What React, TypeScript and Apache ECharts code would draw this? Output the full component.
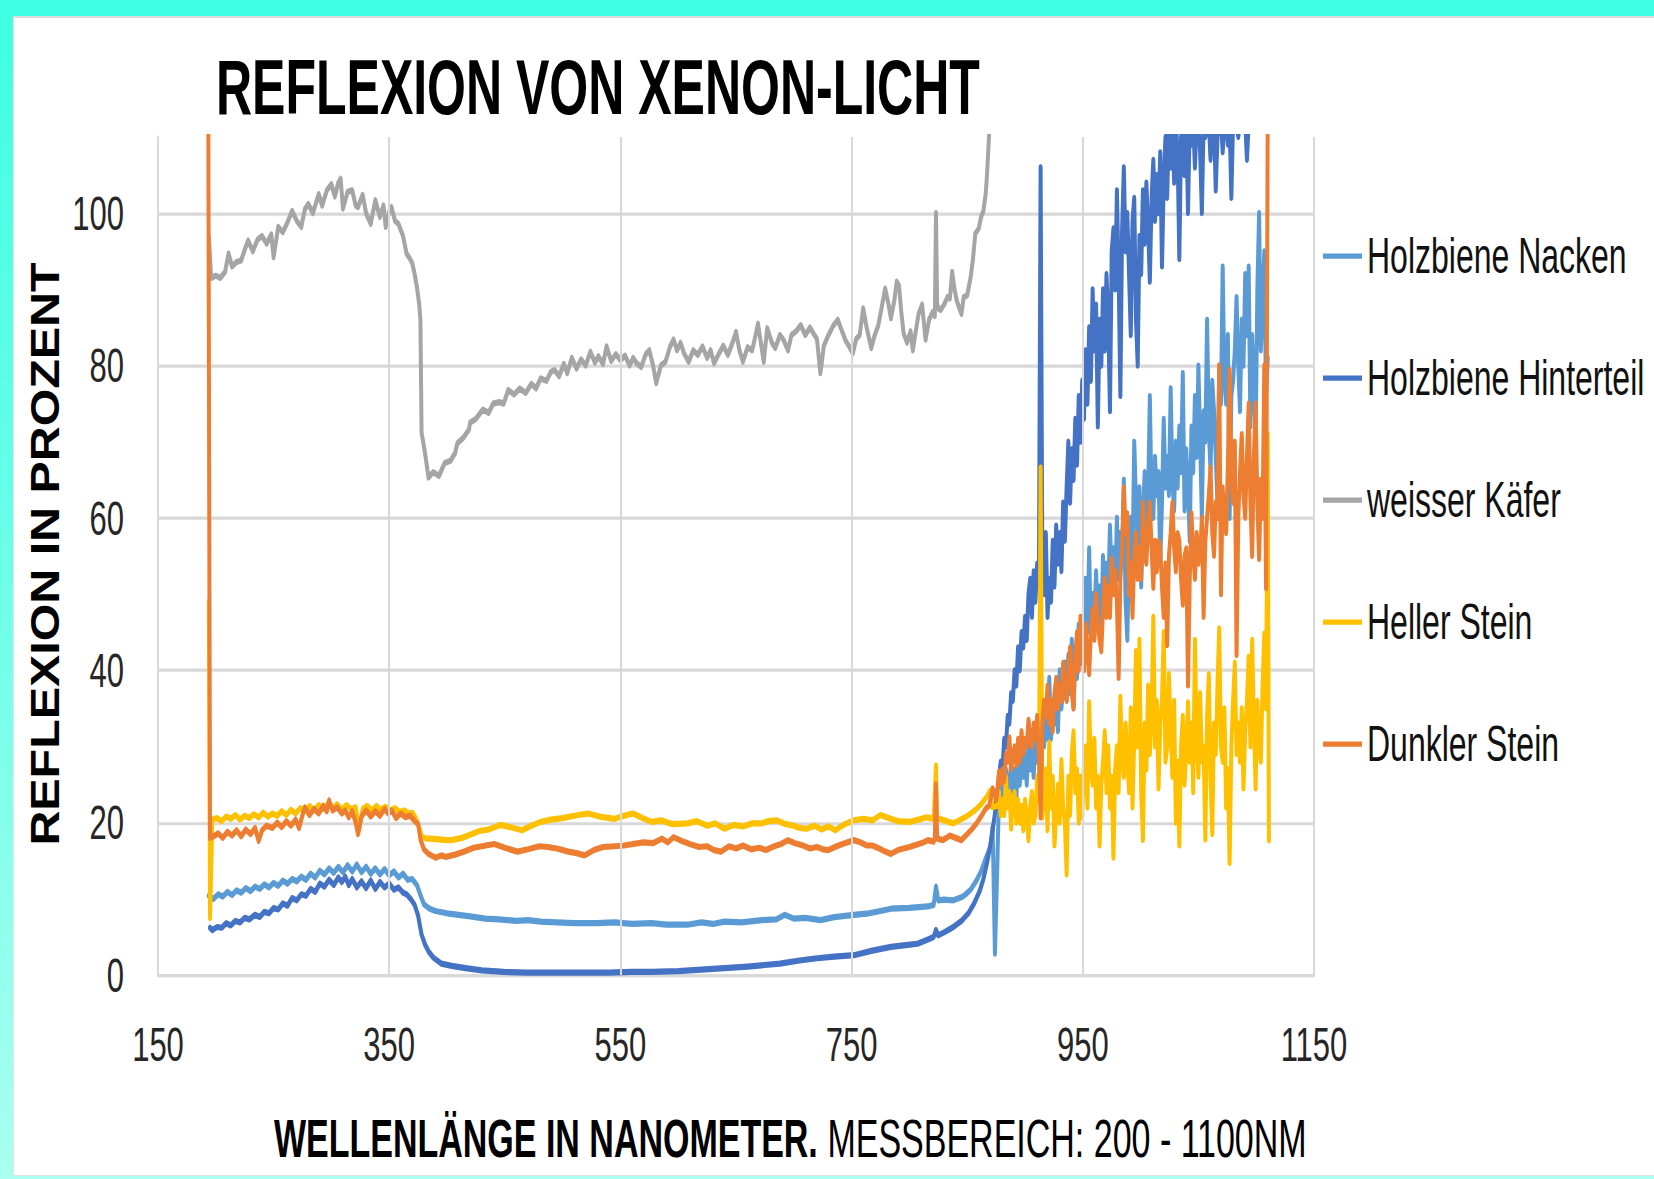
import React, { useEffect, useRef } from "react";
import * as echarts from "echarts";

// ---------- data (wavelength nm, reflexion %) ----------
const xTicks = [150, 350, 550, 750, 950, 1150];

const seriesNames = [
  "Holzbiene Nacken",
  "Holzbiene Hinterteil",
  "weisser Käfer",
  "Heller Stein",
  "Dunkler Stein",
];
const seriesColors = ["#5B9BD5", "#4472C4", "#A5A5A5", "#FFC000", "#ED7D31"];

// 194 – 875 nm, read point by point
const nackenLow: number[][] = [
  [194,10.4],[198,10.0],[202,10.6],[206,10.3],[210,10.9],[214,10.5],[218,11.1],[222,10.8],[226,11.4],[230,11.0],
  [234,11.6],[238,11.3],[242,11.9],[246,11.5],[250,12.1],[254,11.7],[258,12.4],[262,12.0],[266,12.6],[270,12.3],
  [274,12.9],[278,12.5],[282,13.3],[286,12.8],[290,13.7],[294,13.2],[298,14.0],[302,13.4],[306,14.2],[310,13.5],
  [314,14.4],[318,13.6],[322,14.5],[326,13.5],[330,14.2],[334,13.3],[338,14.0],[342,13.2],[346,13.9],[350,13.1],
  [354,13.6],[358,12.8],[362,13.3],[366,12.5],[370,12.6],[374,11.8],[377,10.5],[380,9.3],[385,8.7],[390,8.4],
  [400,8.1],[410,7.9],[420,7.7],[433,7.4],[445,7.3],[460,7.1],[470,7.2],[481,7.0],[495,6.9],[510,6.8],
  [529,6.8],[545,6.9],[560,6.7],[577,6.8],[590,6.6],[608,6.6],[620,6.9],[630,6.7],[640,7.0],[655,6.9],
  [672,7.2],[685,7.3],[692,7.9],[700,7.4],[710,7.5],[723,7.2],[735,7.6],[752,7.9],[765,8.1],[775,8.4],
  [784,8.7],[800,8.8],[816,9.0],[821,9.2],[823,11.6],[825,9.8],[830,9.9],[838,9.8],[845,10.2],[848,10.5],
  [853,11.2],[858,12.4],[862,13.6],[866,15.3],[870,16.8],[872,19.5],[874,2.8],
];
const hinterteilLow: number[][] = [
  [195,6.2],[197,5.9],[201,6.3],[205,6.2],[209,6.8],[213,6.5],[217,7.1],[221,6.9],[225,7.5],[229,7.3],
  [234,7.9],[238,7.6],[242,8.3],[246,8.1],[250,8.8],[254,8.6],[258,9.4],[262,9.1],[266,10.1],[270,9.8],
  [274,10.6],[278,10.4],[282,11.3],[286,10.9],[290,12.0],[294,11.6],[298,12.5],[302,11.8],[306,12.8],[309,12.2],
  [312,12.9],[315,11.8],[318,12.6],[322,11.5],[326,12.3],[330,11.4],[334,12.4],[338,11.3],[342,12.2],[346,11.5],
  [350,12.0],[354,11.2],[358,11.5],[362,10.8],[365,10.6],[369,9.9],[372,9.2],[375,7.8],[378,5.3],[381,4.0],
  [384,3.1],[388,2.3],[395,1.5],[404,1.2],[416,0.9],[430,0.6],[449,0.4],[470,0.3],[490,0.3],[513,0.3],
  [540,0.3],[560,0.4],[577,0.4],[600,0.5],[620,0.7],[640,0.9],[660,1.1],[688,1.5],[705,1.9],[720,2.2],
  [735,2.4],[752,2.6],[768,3.2],[784,3.7],[795,3.9],[807,4.1],[815,4.6],[821,5.0],[823,5.9],[825,5.2],
  [830,5.6],[838,6.3],[845,7.1],[851,8.1],[856,9.4],[861,11.1],[864,12.6],[867,14.6],[870,17.0],[872,19.0],
  [874,21.2],
];
const weisserKaefer: number[][] = [
  [194,97],[196,91.5],[200,91.8],[204,91.5],[208,92.3],[211,94.7],[214,93.0],[218,93.6],[222,93.8],[225,95.2],
  [228,96.4],[232,95.0],[236,96.5],[240,97.0],[244,96.0],[248,97.2],[250,94.2],[254,98.2],[258,97.5],[262,98.8],
  [266,100.3],[270,99.0],[274,98.2],[277,100.5],[280,101.2],[284,100.0],[289,102.5],[292,101.0],[296,103.0],[300,103.8],
  [303,102.2],[306,104.0],[308,104.5],[310,100.6],[314,102.8],[318,103.0],[321,101.0],[323,100.8],[327,102.4],[330,100.0],
  [334,98.6],[338,101.7],[342,99.5],[345,101.0],[347,98.2],[350,100.2],[352,100.8],[355,99.0],[358,98.6],[362,97.0],
  [365,94.7],[368,94.0],[370,93.4],[372,92.0],[374,90.3],[376,88.0],[377,86.0],[378,71.2],[381,68.5],[384,65.3],
  [388,66.0],[393,65.5],[398,67.2],[403,67.5],[407,68.5],[409,69.8],[414,70.5],[419,71.6],[420,72.5],[425,73.0],
  [431,74.2],[436,73.8],[440,75.0],[445,75.2],[449,75.0],[453,76.8],[458,76.2],[463,77.0],[468,76.4],[473,77.6],
  [477,77.0],[481,78.3],[486,78.0],[490,79.2],[493,79.4],[497,78.6],[501,80.2],[504,79.0],[508,81.0],[512,79.6],
  [516,80.8],[520,80.0],[524,81.8],[528,80.4],[531,81.2],[535,80.2],[538,82.5],[542,80.6],[546,81.5],[550,80.7],
  [554,81.3],[558,80.0],[561,81.0],[564,80.3],[568,79.8],[572,81.5],[575,82.0],[578,80.2],[581,77.7],[585,80.0],
  [589,80.5],[593,82.5],[596,83.4],[599,82.0],[602,83.0],[605,81.6],[609,80.5],[613,82.0],[617,81.4],[621,82.5],
  [625,81.0],[628,82.0],[631,80.3],[635,81.5],[639,82.6],[643,81.4],[647,83.0],[650,84.4],[653,82.0],[656,80.5],
  [660,82.4],[664,82.0],[667,84.0],[669,85.5],[672,82.5],[674,80.5],[677,84.9],[681,83.0],[684,82.3],[688,84.0],
  [691,83.4],[695,82.0],[698,84.0],[702,84.5],[706,85.3],[710,84.0],[714,85.0],[717,84.2],[720,83.5],[723,79.0],
  [726,82.6],[730,84.0],[734,85.2],[738,86.0],[741,84.8],[745,83.2],[748,82.5],[751,81.6],[754,83.5],[757,84.0],
  [760,87.5],[763,85.0],[767,82.3],[770,84.0],[773,85.2],[776,87.6],[779,90.1],[782,88.0],[784,86.2],[787,88.6],
  [789,91.0],[791,90.5],[793,87.0],[795,84.2],[798,83.0],[801,84.5],[803,82.0],[806,85.0],[808,86.8],[811,88.0],
  [814,83.4],[817,86.0],[820,87.0],[822,86.5],[823,100.0],[824,88.0],[825,87.5],[827,87.3],[830,88.0],[833,89.0],
  [835,88.8],[837,92.3],[839,90.0],[841,88.5],[843,87.6],[845,86.8],[847,89.0],[850,89.2],[853,91.6],[855,94.0],
  [857,97.3],[860,98.0],[862,99.5],[864,100.3],[866,102.5],[867,104.7],[868,107.5],[869,110.5],[871,118],[875,126],
];
const hellerLow: number[][] = [
  [194,49],[195,7.5],[197,20.4],[201,20.6],[205,20.2],[209,20.8],[213,20.5],[217,21.0],[221,20.4],[225,20.9],
  [229,20.6],[233,21.1],[237,20.7],[241,21.3],[245,20.8],[249,21.2],[253,20.9],[257,21.5],[261,21.0],[265,21.7],
  [269,21.2],[273,21.9],[277,21.5],[281,22.2],[285,21.6],[289,22.3],[293,21.8],[297,22.5],[301,21.9],[305,22.4],
  [309,21.7],[313,22.3],[317,21.8],[321,22.0],[324,19.0],[327,21.8],[331,22.2],[335,21.6],[339,22.2],[343,21.7],
  [347,22.1],[351,21.6],[355,21.9],[359,21.4],[363,21.6],[367,21.2],[370,21.3],[373,20.6],[376,19.4],[378,18.2],
  [382,17.9],[386,17.9],[393,17.8],[399,17.7],[404,17.7],[413,18.0],[420,18.4],[428,18.9],[436,19.1],[446,19.7],
  [455,19.4],[465,19.0],[473,19.6],[481,20.1],[490,20.4],[500,20.6],[510,20.9],[522,21.2],[532,20.8],[545,20.5],
  [553,20.9],[561,21.2],[569,20.6],[577,20.1],[585,20.3],[595,19.8],[608,19.9],[616,20.2],[625,19.6],[632,19.9],
  [640,19.2],[648,19.7],[656,19.5],[664,19.9],[672,19.9],[678,20.2],[685,20.3],[693,19.8],[700,19.6],[705,19.3],
  [711,19.2],[718,19.6],[724,19.1],[730,19.5],[736,19.0],[744,19.8],[752,20.3],[760,20.5],[768,20.3],[775,21.0],
  [782,20.6],[790,20.2],[800,20.1],[808,20.4],[815,20.7],[821,20.5],[823,27.5],[824,20.6],[830,20.3],[838,19.9],
  [843,20.3],[848,20.7],[853,21.2],[858,21.8],[862,22.4],[867,23.4],[870,24.2],[872,22],[875,22.2],
];
const dunklerLow: number[][] = [
  [193.5,115],[195,18],[198,18.2],[202,18.6],[206,18.0],[210,18.8],[214,18.3],[218,19.0],[222,18.2],[226,19.1],
  [230,18.5],[234,19.3],[237,17.6],[240,19.0],[244,19.6],[249,19.3],[253,20.0],[257,19.4],[261,20.2],[265,19.6],
  [269,20.4],[272,19.3],[275,21.0],[277,22.0],[281,21.0],[285,21.8],[289,21.2],[293,22.2],[296,21.5],[298,22.9],
  [301,21.6],[305,22.0],[309,21.2],[312,21.6],[315,20.7],[318,21.5],[321,20.0],[323,18.5],[326,20.8],[330,21.6],
  [334,20.8],[338,21.5],[342,20.9],[346,21.8],[349,21.2],[352,21.6],[356,20.6],[360,21.2],[364,20.7],[368,20.9],
  [372,20.2],[375,19.8],[377,17.8],[380,16.5],[384,15.9],[390,15.4],[395,15.7],[399,15.5],[407,15.8],[415,16.2],
  [423,16.7],[430,16.9],[441,17.2],[450,16.7],[461,16.2],[470,16.5],[480,16.9],[487,16.8],[495,16.6],[505,16.2],
  [512,16.0],[519,15.7],[527,16.4],[535,16.8],[545,16.9],[553,17.0],[561,17.2],[570,17.4],[578,17.3],[586,17.9],
  [591,17.4],[596,18.1],[603,17.6],[610,17.2],[618,16.8],[625,16.9],[631,16.4],[637,16.2],[644,16.9],[650,16.6],
  [656,17.0],[663,16.5],[670,16.7],[676,16.4],[683,16.9],[689,17.2],[695,17.7],[701,17.3],[708,17.0],[714,16.6],
  [720,16.8],[725,16.5],[730,16.4],[737,16.9],[744,17.3],[752,17.7],[758,17.4],[763,17.0],[768,17.0],[774,16.6],
  [779,16.2],[784,15.9],[790,16.4],[795,16.6],[800,16.8],[806,17.1],[812,17.4],[816,17.7],[821,17.5],[822,18.0],
  [823,25.0],[824,17.9],[829,17.7],[835,18.3],[840,18.0],[845,17.7],[850,18.5],[855,19.3],[858,19.9],[862,20.8],
  [865,21.6],[867,22.0],[869,22.2],[872,24.5],[875,23],
];

// 876 – 1110 nm: instrument samples every 1.5 nm (noisy near-infrared part)
const nirStartNm = 876;
const nirStepNm = 1.5;
const nackenNir = [
  14,24,21,26,22,27,23,25,28,24, 27,23,29,25,30,26,29,25,31,27, 30,26,32,28,34,29,33,30,35,31,
  39,31,36,33,37,32,40,35,38,41, 36,42,37,44,35,43,39,46,41,47, 40,52,45,56,44,50,47,53,46,51,
  46,55,49,54,50,59,52,56,51,60, 52,58,55,65,49,44,56,60,54,70, 62,57,64,51,60,66,58,63,76,62,
  60,68,63,66,54,62,73,64,68,63, 77,65,61,70,64,72,66,79,61,69, 64,57,72,66,76,68,80,70,60,74,
  70,86,72,66,78,74,68,62,80,75, 93,78,75,84,60,76,78,82,89,80, 74,86,80,92,84,93,72,84,78,70,
  90,100,82,88,95,76,81,
];
const hinterteilNir = [
  24,26,28,27,31,30,34,33,37,36, 40,38,43,40,45,43,47,44,50,52, 47,53,49,54,51,106,54,50,58,47,
  52,49,57,51,59,54,58,53,62,57, 64,70,62,69,65,73,67,76,70,78, 73,82,75,85,78,90,82,88,72,86,
  80,90,82,92,86,74,95,98,90,103, 92,76,98,106,95,100,92,84,99,102, 86,80,97,92,103,96,104,98,91,102,
  107,99,105,100,108,93,104,110,102,112, 106,112,104,112,108,94,110,112,105,112, 100,112,109,112,106,112,112,108,100,112,
  110,112,112,107,112,112,103,110,112,112, 108,112,112,109,112,102,112,112,112,110, 112,112,112,112,107,112,112,112,112,112,
  112,112,112,112,112,112,112,
];
const hellerNir = [
  22.2,24,21,23,21,26,22,24,19.2,23, 24,20,23,20,22.2,19,23,21,17.7,22, 24,20,21,26,23,66.6,20.7,24,27,19,
  30.5,22,26,17,21,25,20,28.2,22,20, 13.2,26,21,29,32,24,27,20,26,20.7, 28,30,22,35.8,27,25,31,22,26,17,
  25,28,32,24,30,22,26,15.4,27,30, 24,36.5,28,26,33,28.2,24,35,22,31, 42.5,30,44,24,17.7,33,27,38,29,34,
  47,30,36,24.5,33,36,45,28,30,39.5, 32,26,36,20,28,17,30,34,25,29, 35.8,28,33,24,44,31,26,37,28,30,
  17.8,34,39.5,26,18.5,33,29,38,45.5,30, 28,35,22,27,14.7,30,36,41,29,33, 28,35,24.5,32,36,41.8,30,44,33,24.5,
  36,30,28,38,44.8,35,71,
];
const dunklerNir = [
  24,26.7,25,27,25.5,29,28,31.2,27,29, 30,27.5,31,28,32,29,31,30,33.5,31, 30,33,31,34,29,20.7,33,36,34,38,
  33,36,32,37,39,35,38,36,41,37, 36,40,43,37,35,42,45,40,47,43, 40,46,42,39.5,45,48,44,50,46,44,
  42.5,48,52,47,51,47,54.6,50,53,49, 39,52,56,64,58,60.6,50,54,47,55, 58,52,56,52,62,55,54,59,62,56,
  50.8,57,53,57,56,51,47,54,43.3,55, 58,62,56,53,58,57,52,48.6,55,56, 38,52,60.6,55,52,58,54,55,60,47,
  57,60,63,66.6,58,55,62,60,80,50, 64,59,58,67,79.4,65,62,70,42,60, 66,71,63,60,68,75,62,55,68,75,
  62,54.6,65,60,80,50.8,115,
];
const hellerTail: number[][] = [[1111, 17.7]];

// ---------- layout ----------
const PAGE_W = 1654;
const PAGE_H = 1179;
const CHART_H = 760; // drawn height, stretched vertically to the page height
const K = PAGE_H / CHART_H;
const FONT = '"Liberation Sans", Arial, sans-serif';

const nir = (vals: number[]) => vals.map((v, i) => [nirStartNm + i * nirStepNm, v]);

const seriesData = [
  [...nackenLow, ...nir(nackenNir)],
  [...hinterteilLow, ...nir(hinterteilNir)],
  weisserKaefer,
  [...hellerLow, ...nir(hellerNir), ...hellerTail],
  [...dunklerLow, ...nir(dunklerNir)],
];

export default function App() {
  const ref = useRef<HTMLDivElement>(null);

  useEffect(() => {
    if (!ref.current) return;
    const chart = echarts.init(ref.current, null, { renderer: "svg" });

    const lineSeries = seriesNames.map((name, i) => ({
      name,
      type: "line",
      data: seriesData[i],
      symbol: "none",
      showSymbol: false,
      clip: true,
      z: 3,
      lineStyle: { width: 4, color: seriesColors[i], join: "round", cap: "round" },
      itemStyle: { color: seriesColors[i] },
      emphasis: { disabled: true },
    }));

    const option: any = {
      animation: false,
      backgroundColor: "transparent",
      textStyle: { fontFamily: FONT },
      title: {
        text: "REFLEXION VON XENON-LICHT",
        left: 216,
        top: 57 - 26,
        padding: 0,
        textStyle: { fontSize: 50, fontWeight: "bold", color: "#000", fontFamily: FONT },
      },
      grid: {
        left: 158,
        right: PAGE_W - 1314,
        top: 137 / K,
        bottom: CHART_H - 975 / K,
      },
      legend: {
        orient: "vertical",
        left: 1318,
        top: 257 / K - 16 - 5.5,
        icon: "rect",
        itemWidth: 39,
        itemHeight: 3.4,
        itemGap: 122 / K - 32,
        selectedMode: false,
        data: seriesNames,
        textStyle: { fontSize: 32, lineHeight: 32, color: "#111", fontFamily: FONT },
      },
      xAxis: {
        type: "value",
        min: 150,
        max: 1150,
        axisLine: { show: true, lineStyle: { color: "#d9d9d9", width: 2 } },
        axisTick: { show: false },
        splitLine: { show: false },
        axisLabel: {
          customValues: xTicks,
          formatter: (v: number) => String(v),
          fontSize: 31,
          color: "#262626",
          margin: 1044 / K - 975 / K,
          verticalAlign: "middle",
          fontFamily: FONT,
        },
      },
      yAxis: {
        type: "value",
        min: 0,
        max: 110,
        interval: 20,
        axisLine: { show: true, lineStyle: { color: "#d9d9d9", width: 2 } },
        axisTick: { show: false },
        splitLine: { show: true, showMaxLine: false, lineStyle: { color: "#d9d9d9", width: 2 } },
        axisLabel: {
          showMaxLabel: false,
          formatter: (v: number) => String(v),
          fontSize: 31,
          color: "#262626",
          margin: 34,
          fontFamily: FONT,
        },
      },
      graphic: [
        {
          type: "text",
          x: 45,
          y: 554 / K,
          rotation: Math.PI / 2,
          scaleX: 0.78,
          style: {
            text: "REFLEXION IN PROZENT",
            fontSize: 40,
            fontWeight: "bold",
            fontFamily: FONT,
            fill: "#000",
            align: "center",
            verticalAlign: "middle",
          },
        },
        {
          type: "text",
          x: 274,
          y: 1139 / K,
          style: {
            text: "{b|WELLENLÄNGE IN NANOMETER.}{r| MESSBEREICH: 200 - 1100NM}",
            fontSize: 34,
            fontFamily: FONT,
            fill: "#000",
            align: "left",
            verticalAlign: "middle",
            rich: {
              b: { fontSize: 34, fontWeight: "bold", fontFamily: FONT, fill: "#000" },
              r: { fontSize: 34, fontWeight: "normal", fontFamily: FONT, fill: "#000" },
            },
          },
        },
      ],
      series: [
        {
          name: "grid",
          type: "line",
          data: [],
          z: 1,
          silent: true,
          markLine: {
            silent: true,
            symbol: ["none", "none"],
            label: { show: false },
            lineStyle: { color: "#d9d9d9", width: 2, type: "solid" },
            data: xTicks.slice(1).map((v) => ({ xAxis: v })),
          },
        },
        ...lineSeries,
      ],
    };

    chart.setOption(option);
    return () => chart.dispose();
  }, []);

  return (
    <div
      style={{
        position: "absolute",
        left: 0,
        top: 0,
        width: PAGE_W,
        height: PAGE_H,
        overflow: "hidden",
        background: "linear-gradient(to bottom, #3effe2 0%, #6dffe8 50%, #a9fff0 100%)",
      }}
    >
      <div
        style={{
          position: "absolute",
          left: 13,
          top: 16,
          right: 0,
          bottom: 3,
          background: "#ffffff",
          borderTop: "2px solid #dcdcdc",
          borderLeft: "1px solid #e4e4e4",
          borderBottom: "1px solid #e0e0e0",
        }}
      />
      <div
        style={{
          position: "absolute",
          left: 0,
          top: 0,
          width: PAGE_W,
          height: PAGE_H,
          overflow: "hidden",
        }}
      >
        <div
          ref={ref}
          style={{
            width: PAGE_W,
            height: CHART_H,
            transform: `scaleY(${K})`,
            transformOrigin: "0 0",
          }}
        />
      </div>
    </div>
  );
}
